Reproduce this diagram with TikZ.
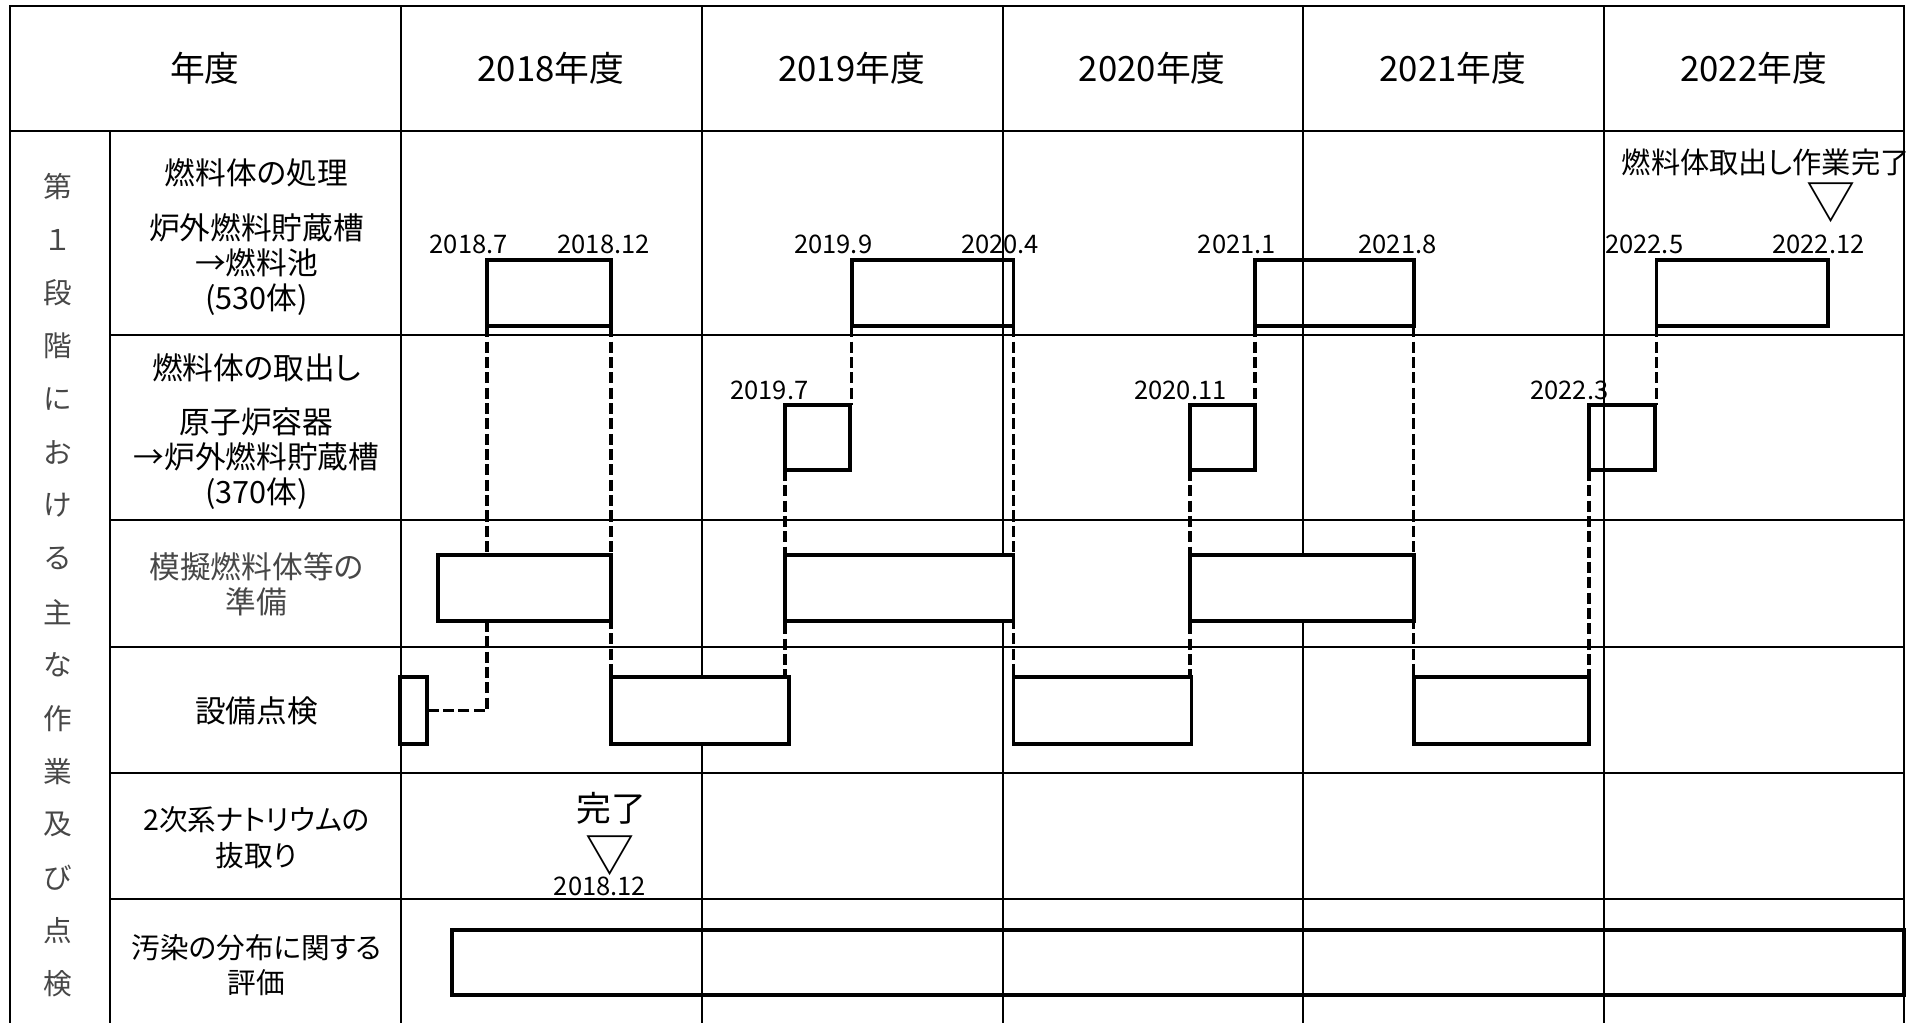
\documentclass[tikz,border=0pt]{standalone}
\usepackage{fontspec}
\setmainfont{Noto Sans CJK JP}[RawFeature=+palt]
\newfontfamily\fullwidthfont{Noto Sans CJK JP}
\usetikzlibrary{fit}
\tikzset{
  gridline/.style={line width=1pt, line cap=rect},
  gbar/.style={draw, line width=1.9pt, inner sep=0pt, outer sep=0pt},
  gbarw/.style={gbar, fill=white},
  dashline/.style={line width=1.8pt, dash pattern=on 5.4pt off 2.1pt},
  hdr/.style={font=\fontsize{17}{20}\selectfont, inner sep=0pt},
  lbl/.style={font=\fontsize{15}{17.1}\selectfont, align=center, inner sep=0pt},
  lblsmall/.style={lbl, font=\fontsize{14}{17.4}\selectfont},
  lblgray/.style={lbl, text=black!72},
  datelbl/.style={font=\fontsize{12.5}{14}\selectfont, inner sep=0pt},
  vert/.style={font=\fullwidthfont\fontsize{14}{16}\selectfont, text=black!72, inner sep=0pt},
  tri/.style={font=\fullwidthfont\fontsize{24}{26}\selectfont, inner sep=0pt},
}
\begin{document}
\begin{tikzpicture}[x=0.6pt,y=-0.6pt]
\useasboundingbox (0,0) rectangle (1568,833);
% table grid
\begin{scope}
\clip (0,0) rectangle (1568,833);
\draw[gridline] (8,5) -- (1552,5);
\draw[gridline] (8,5) -- (8,840);
\draw[gridline] (1552,5) -- (1552,840);
\draw[gridline] (8,107) -- (1552,107);
\draw[gridline] (90,107) -- (90,840);
\foreach \xx in {327,572,817.4,1062,1307}{\draw[gridline] (\xx,5) -- (\xx,840);}
\foreach \yy in {273,424,527,630,733}{\draw[gridline] (90,\yy) -- (1552,\yy);}
\end{scope}
% header
\node[hdr] (h0) at (167,56) {年度};
\node[hdr] (h1) at (449,56) {2018年度};
\node[hdr] (h2) at (694,56) {2019年度};
\node[hdr] (h3) at (939,56) {2020年度};
\node[hdr] (h4) at (1184,56) {2021年度};
\node[hdr] (h5) at (1429,56) {2022年度};
% vertical label
\foreach \c [count=\i] in {第,１,段,階,に,お,け,る,主,な,作,業,及,び,点,検}{
  \node[vert] (v\i) at (47,{152+(\i-1)*43.33}) {\c};
}
% row labels
\node[lbl] (l1a) at (209,141) {燃料体の処理};
\node[lbl] (l1b) at (209,215.5) {炉外燃料貯蔵槽\\→燃料池\\(530体)};
\node[lbl] (l2a) at (209,300) {燃料体の取出し};
\node[lbl] (l2b) at (209,373.5) {原子炉容器\\→炉外燃料貯蔵槽\\(370体)};
\node[lblgray] (l3) at (209,476.5) {模擬燃料体等の\\準備};
\node[lbl] (l4) at (209,579) {設備点検};
\node[lblsmall] (l5) at (209,682.5) {2次系ナトリウムの\\抜取り};
\node[lblsmall] (l6) at (209,786.5) {汚染の分布に関する\\評価};
% bars row 1
\node[gbar, fit={(397,212) (498,266)}] (r1a) {};
\node[gbar, fit={(694,212) (826,266)}] (r1b) {};
\node[gbar, fit={(1023,212) (1152,266)}] (r1c) {};
\node[gbar, fit={(1350,212) (1490,266)}] (r1d) {};
% bars row 2
\node[gbar, fit={(640,330) (693,383)}] (r2a) {};
\node[gbar, fit={(970,330) (1023,383)}] (r2b) {};
\node[gbar, fit={(1295,330) (1349,383)}] (r2c) {};
% bars row 3
\node[gbarw, fit={(357,452) (498,506)}] (r3a) {};
\node[gbarw, fit={(640,452) (826,506)}] (r3b) {};
\node[gbarw, fit={(970,452) (1152,506)}] (r3c) {};
% bars row 4
\node[gbarw, fit={(326,552) (348,606)}] (r4a) {};
\node[gbarw, fit={(498,552) (643,606)}] (r4b) {};
\node[gbarw, fit={(826,552) (971,606)}] (r4c) {};
\node[gbarw, fit={(1152,552) (1295,606)}] (r4d) {};
% bar row 6
\node[gbar, fit={(368,758) (1552,811)}] (r6) {};
% dashed links
\draw[dashline] (r1a.south west) -- (r1a.south west |- r3a.north);
\draw[dashline] (r1a.west |- r3a.south) -- (r1a.west |- r4a.east) -- (r4a.east);
\draw[dashline] (r1a.south east) -- (r1a.south east |- r4b.north);
\draw[dashline] (r1b.south west) -- (r1b.south west |- r2a.north);
\draw[dashline] (r2a.south west) -- (r2a.south west |- r4b.north);
\draw[dashline] (r1b.south east) -- (r1b.south east |- r4c.north);
\draw[dashline] (r1c.south west) -- (r1c.south west |- r2b.north);
\draw[dashline] (r2b.south west) -- (r2b.south west |- r4c.north);
\draw[dashline] (r1c.south east) -- (r1c.south east |- r4d.north);
\draw[dashline] (r1d.south west) -- (r1d.south west |- r2c.north);
\draw[dashline] (r2c.south west) -- (r2c.south west |- r4d.north);
% date labels
\node[datelbl] (d1) at (382,199) {2018.7};
\node[datelbl] (d2) at (492,199) {2018.12};
\node[datelbl] (d3) at (679,199) {2019.9};
\node[datelbl] (d4) at (815,199) {2020.4};
\node[datelbl] (d5) at (1008,199) {2021.1};
\node[datelbl] (d6) at (1139,199) {2021.8};
\node[datelbl] (d7) at (1340,199) {2022.5};
\node[datelbl] (d8) at (1482,199) {2022.12};
\node[datelbl] (d9) at (627,318) {2019.7};
\node[datelbl] (d10) at (962,318) {2020.11};
\node[datelbl] (d11) at (1279,318) {2022.3};
\node[datelbl] (d12) at (489,722) {2018.12};
% milestones
\node[font=\fontsize{14.3}{16}\selectfont, inner sep=0pt] (m1) at (1439,132) {燃料体取出し作業完了};
\node[tri] (t1) at (1492,165) {▽};
\node[font=\fontsize{17}{19}\selectfont, inner sep=0pt] (m2) at (498,659) {完了};
\node[tri] (t2) at (497,697) {▽};
\end{tikzpicture}
\end{document}
